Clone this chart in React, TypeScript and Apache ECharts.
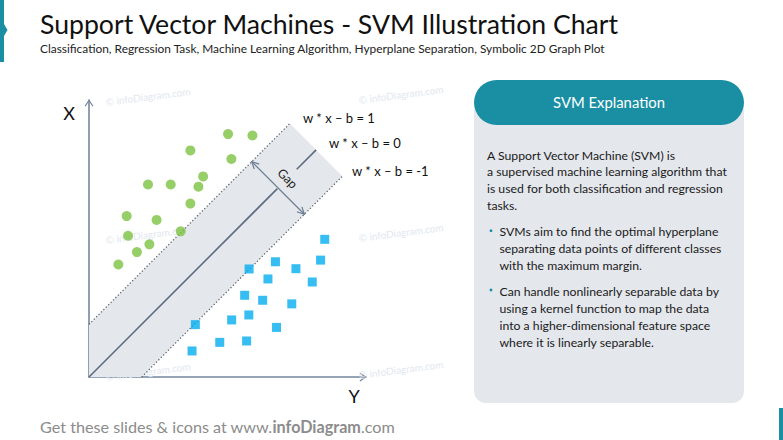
import React, { useEffect, useRef } from "react";
import * as echarts from "echarts";

// ---- data (in chart units; origin at the axes' corner) ----
const greenPoints: number[][] = [
  [5.02, 8.77], [5.9, 8.72], [3.66, 8.18], [5.14, 7.87], [4.12, 7.24],
  [2.13, 6.95], [2.95, 6.95], [3.95, 6.87], [3.66, 6.26], [1.36, 5.81],
  [2.44, 5.67], [3.31, 5.26], [1.41, 5.1], [2.18, 4.79], [1.73, 4.51], [1.06, 4.06],
];
const bluePoints: number[][] = [
  [8.51, 4.97], [8.36, 4.22], [6.73, 4.16], [7.47, 3.91], [5.78, 3.9],
  [6.46, 3.54], [8.06, 3.43], [5.62, 2.95], [6.27, 2.77], [7.32, 2.64],
  [5.77, 2.24], [5.15, 2.06], [3.84, 1.89], [6.77, 1.79], [4.72, 1.25],
  [5.69, 1.3], [3.72, 0.94],
];
const marginOffset = 1.9; // half width of margin band
const bandEndSum = 16.4; // x + y where the band ends
const gapArrowSum = 13.65; // x + y of the Gap arrow
const centerBreak = [6.8, 7.5]; // break in hyperplane line for "Gap"
const equationLabels = ["w * x – b = 1", "w * x – b = 0", "w * x – b = -1"];
const axisMax = [10, 10];

const titleText = "Support Vector Machines - SVM Illustration Chart";
const subtitleText = "Classification, Regression Task, Machine Learning Algorithm, Hyperplane Separation, Symbolic 2D Graph Plot";
const panelTitle = "SVM Explanation";
const explanationParagraph = [
  "A Support Vector Machine (SVM) is",
  "a supervised machine learning algorithm that",
  "is used for both classification and regression",
  "tasks.",
];
const explanationBullets = [
  ["SVMs aim to find the optimal hyperplane", "separating data points of different classes", "with the maximum margin."],
  ["Can handle nonlinearly separable data by", "using a kernel function to map the data", "into a higher-dimensional feature space", "where it is linearly separable."],
];
const footerParts = ["Get these slides & icons at www.", "infoDiagram", ".com"];

const FONT = "Lato, 'Open Sans', sans-serif";
const TEAL = "#1a8fa3";
const AXIS = "#7486a0";

let measureCtx: CanvasRenderingContext2D | null = null;
function measure(text: string, weight = "normal") {
  if (!measureCtx) measureCtx = document.createElement("canvas").getContext("2d");
  measureCtx!.font = `${weight} 100px ${FONT}`;
  return measureCtx!.measureText(text).width / 100; // width per 1px of font size
}
function fitSize(text: string, target: number, weight = "normal") {
  return target / measure(text, weight);
}

export default function App() {
  const ref = useRef<HTMLDivElement>(null);
  useEffect(() => {
    const chart = echarts.init(ref.current!, undefined, { renderer: "svg" });
    const m = marginOffset, S = bandEndSum, G = gapArrowSum;

    const titleSize = fitSize(titleText, 580);
    const subSize = fitSize(subtitleText, 566);
    const bodySize = fitSize(explanationParagraph[1], 240);
    const headSize = fitSize(panelTitle, 112);
    const eqSize = fitSize(equationLabels[2], 77);
    const footSize = 355 / (measure(footerParts[0]) + measure(footerParts[1], "bold") + measure(footerParts[2]));

    const renderBand = (params: any, api: any) => {
      const c = (p: number[]) => api.coord(p);
      const band = [[0, 0], [0, m], [(S - m) / 2, (S + m) / 2], [(S + m) / 2, (S - m) / 2], [m, 0]].map(c);
      const up = [[0, m], [(S - m) / 2, (S + m) / 2]].map(c);
      const lo = [[m, 0], [(S + m) / 2, (S - m) / 2]].map(c);
      const c1 = [[0, 0], [centerBreak[0], centerBreak[0]]].map(c);
      const c2 = [[centerBreak[1], centerBreak[1]], [S / 2, S / 2]].map(c);
      const a0 = c([(G - m) / 2, (G + m) / 2]);
      const a1 = c([(G + m) / 2, (G - m) / 2]);
      const dx = a1[0] - a0[0], dy = a1[1] - a0[1];
      const len = Math.hypot(dx, dy);
      const ux = dx / len, uy = dy / len, nx = -uy, ny = ux;
      const L = 7, W = 3.5;
      const head = (p: number[], s: number) => [
        [p[0] + s * L * ux + W * nx, p[1] + s * L * uy + W * ny],
        p,
        [p[0] + s * L * ux - W * nx, p[1] + s * L * uy - W * ny],
      ];
      const mid = c([(centerBreak[0] + centerBreak[1]) / 2 + 0.02, (centerBreak[0] + centerBreak[1]) / 2 + 0.02]);
      const dotted = { stroke: "#58606c", lineWidth: 1.3, lineDash: [1.2, 2.2], fill: null };
      const arrowStyle = { stroke: "#6c7c92", lineWidth: 1.2, fill: null };
      return {
        type: "group",
        children: [
          { type: "polygon", shape: { points: band }, style: { fill: "#e4e7eb" } },
          { type: "polyline", shape: { points: up }, style: dotted },
          { type: "polyline", shape: { points: lo }, style: dotted },
          { type: "polyline", shape: { points: c1 }, style: { stroke: "#5d6c82", lineWidth: 1.6, fill: null } },
          { type: "polyline", shape: { points: c2 }, style: { stroke: "#5d6c82", lineWidth: 1.6, fill: null } },
          { type: "polyline", shape: { points: [a0, a1] }, style: arrowStyle },
          { type: "polyline", shape: { points: head(a0, 1) }, style: arrowStyle },
          { type: "polyline", shape: { points: head(a1, -1) }, style: arrowStyle },
          {
            type: "text", x: mid[0], y: mid[1], rotation: -Math.PI / 4,
            style: { text: "Gap", font: `12.5px ${FONT}`, fill: "#222", textAlign: "center", textVerticalAlign: "middle" },
          },
        ],
      };
    };

    const watermark = (x: number, y: number) => ({
      type: "text", x, y, rotation: 0.13, z: 1,
      style: { text: "© infoDiagram.com", font: `10px ${FONT}`, fill: "#e2e7ef" },
    });

    const graphic: any[] = [
      { type: "polygon", shape: { points: [[0, 0], [4, 0], [4, 24], [7.5, 30], [4, 36], [4, 62], [0, 62]] }, style: { fill: TEAL } },
      { type: "rect", shape: { x: 779, y: 408, width: 4, height: 32 }, style: { fill: TEAL } },
      { type: "text", x: 40, y: 24, style: { text: titleText, font: `${titleSize}px ${FONT}`, fill: "#111", textVerticalAlign: "middle" } },
      { type: "text", x: 40, y: 48, style: { text: subtitleText, font: `${subSize}px ${FONT}`, fill: "#222", textVerticalAlign: "middle" } },
      watermark(105, 97), watermark(358, 95), watermark(105, 235), watermark(358, 233), watermark(105, 372), watermark(358, 370),
      { type: "text", x: 69, y: 113, style: { text: "X", font: `18px ${FONT}`, fill: "#111", textAlign: "center", textVerticalAlign: "middle" } },
      { type: "text", x: 354, y: 396, style: { text: "Y", font: `18px ${FONT}`, fill: "#111", textAlign: "center", textVerticalAlign: "middle" } },
      { type: "text", x: 303, y: 118, style: { text: equationLabels[0], font: `${eqSize}px ${FONT}`, fill: "#111", textVerticalAlign: "middle" } },
      { type: "text", x: 329, y: 143, style: { text: equationLabels[1], font: `${eqSize}px ${FONT}`, fill: "#111", textVerticalAlign: "middle" } },
      { type: "text", x: 352, y: 171, style: { text: equationLabels[2], font: `${eqSize}px ${FONT}`, fill: "#111", textVerticalAlign: "middle" } },
      { type: "rect", shape: { x: 474, y: 100, width: 270, height: 303, r: 12 }, style: { fill: "#e4e7ec" } },
      { type: "rect", shape: { x: 474, y: 80, width: 270, height: 45, r: 22.5 }, style: { fill: TEAL } },
      { type: "text", x: 609, y: 102, style: { text: panelTitle, font: `${headSize}px ${FONT}`, fill: "#fff", textAlign: "center", textVerticalAlign: "middle" } },
      {
        type: "text", x: 40, y: 426,
        style: {
          text: `{a|${footerParts[0]}}{b|${footerParts[1]}}{a|${footerParts[2]}}`,
          rich: {
            a: { font: `${footSize}px ${FONT}`, fill: "#8c8c8c" },
            b: { font: `bold ${footSize}px ${FONT}`, fill: "#8c8c8c" },
          },
          textVerticalAlign: "middle",
        },
      },
    ];
    const lh = 16.8;
    explanationParagraph.forEach((t, i) => {
      graphic.push({ type: "text", x: 487, y: 155 + i * lh, style: { text: t, font: `${bodySize}px ${FONT}`, fill: "#1a1a1a", textVerticalAlign: "middle" } });
    });
    const bulletStarts = [231.7, 291];
    explanationBullets.forEach((lines, b) => {
      graphic.push({ type: "circle", shape: { cx: 491, cy: bulletStarts[b] - 1, r: 1.4 }, style: { fill: TEAL } });
      lines.forEach((t, i) => {
        graphic.push({ type: "text", x: 499.5, y: bulletStarts[b] + i * 17, style: { text: t, font: `${bodySize}px ${FONT}`, fill: "#1a1a1a", textVerticalAlign: "middle" } });
      });
    });

    const chevron = "path://M5,0 L10,7 L9,8 L5,2.3 L1,8 L0,7 Z";
    const axisCommon = {
      type: "value", min: 0, splitLine: { show: false }, axisTick: { show: false }, axisLabel: { show: false },
      axisLine: { show: true, lineStyle: { color: AXIS, width: 1.6 }, symbol: ["none", chevron], symbolSize: [11, 7], symbolOffset: [0, -3] },
    };

    chart.setOption({
      animation: false,
      backgroundColor: "#fff",
      grid: { left: 89, top: 100, width: 277, height: 277 },
      xAxis: { ...axisCommon, max: axisMax[0] },
      yAxis: { ...axisCommon, max: axisMax[1] },
      series: [
        { type: "custom", renderItem: renderBand, data: [[0, 0]], z: 1, clip: false, silent: true },
        { type: "scatter", data: greenPoints, symbol: "circle", symbolSize: 10, itemStyle: { color: "#7cc242" }, z: 3 },
        { type: "scatter", data: bluePoints, symbol: "rect", symbolSize: 9, itemStyle: { color: "#04aef0" }, z: 3 },
      ],
      graphic,
    });
    return () => chart.dispose();
  }, []);
  return <div ref={ref} style={{ position: "absolute", left: 0, top: 0, width: 783, height: 440 }} />;
}
